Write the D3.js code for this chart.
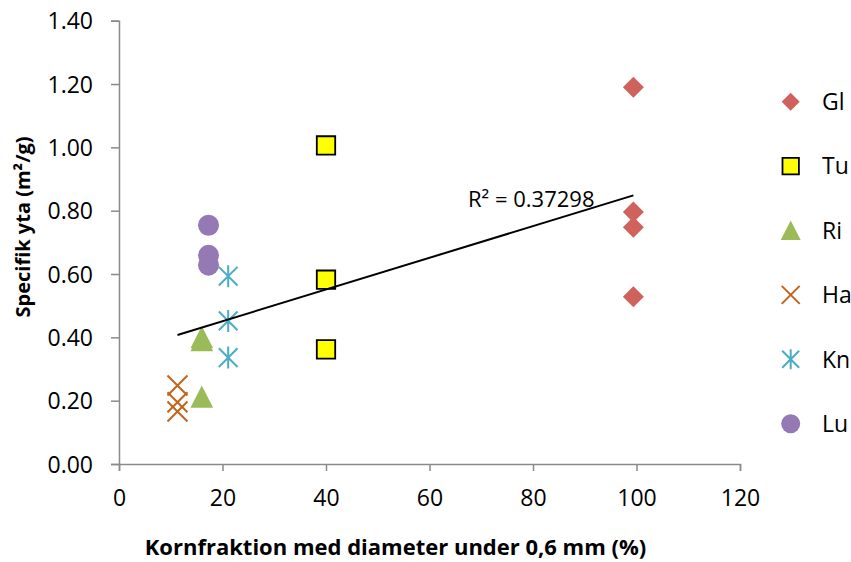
<!DOCTYPE html>
<html>
<head>
<meta charset="utf-8">
<script src="https://cdn.jsdelivr.net/npm/d3@7/dist/d3.min.js"></script>
<style>
  html, body { margin: 0; padding: 0; background: #fff; }
  svg { display: block; font-family: "Open Sans", "DejaVu Sans", sans-serif; }
</style>
</head>
<body>
<svg id="chart" width="851" height="562"></svg>
<script>
// Grain fraction below 0.6 mm (%) and specific surface area (m²/g) per site
const seriesNames = ["Gl", "Tu", "Ri", "Ha", "Kn", "Lu"];
const glX = [99.4, 99.4, 99.4, 99.4];
const glY = [1.19, 0.796, 0.748, 0.528];
const tuX = [40, 40, 40];
const tuY = [1.006, 0.582, 0.362];
const riX = [16, 16, 16];
const riY = [0.40, 0.39, 0.212];
const haX = [11.3, 11.3, 11.3];
const haY = [0.248, 0.195, 0.166];
const knX = [21.1, 21.1, 21.1];
const knY = [0.593, 0.452, 0.336];
const luX = [17.3, 17.3, 17.3];
const luY = [0.754, 0.659, 0.628];

const xTicks = [0, 20, 40, 60, 80, 100, 120];
const yTicks = [0, 0.2, 0.4, 0.6, 0.8, 1.0, 1.2, 1.4];
const r2Label = "R² = 0.37298";
const xTitle = "Kornfraktion med diameter under 0,6 mm (%)";
const yTitle = "Specifik yta (m²/g)";

const svg = d3.select("#chart");
const x = d3.scaleLinear().domain([0, 120]).range([119, 740]);
const y = d3.scaleLinear().domain([0, 1.4]).range([464, 20.7]);
const axisColor = "#8a8a8a";

// Axes
const xAxis = svg.append("g")
  .attr("transform", `translate(0,${y(0)})`)
  .call(d3.axisBottom(x).tickValues(xTicks).tickFormat(d3.format("d")).tickSizeOuter(0).tickSize(7));
const yAxis = svg.append("g")
  .attr("transform", `translate(${x(0)},0)`)
  .call(d3.axisLeft(y).tickValues(yTicks).tickFormat(d3.format(".2f")).tickSizeOuter(0).tickSize(8).tickPadding(18));

[xAxis, yAxis].forEach(g => {
  g.select(".domain").attr("stroke", axisColor).attr("stroke-width", 1.5);
  g.selectAll(".tick line").attr("stroke", axisColor).attr("stroke-width", 1.5);
  g.selectAll("text").attr("fill", "#000").attr("font-size", 23)
    .attr("font-family", "'Open Sans', sans-serif");
});
xAxis.selectAll("text").attr("y", 42).attr("dy", 0);
yAxis.selectAll("text").attr("dy", "0.36em");

// Marker shapes (half-extent s)
const shapes = {
  diamond: s => `M0,${-s}L${s},0L0,${s}L${-s},0Z`,
  square: s => `M${-s},${-s}H${s}V${s}H${-s}Z`,
  triangle: s => `M0,${-s * 1.05}L${s * 1.05},${s}L${-s * 1.05},${s}Z`,
  cross: s => `M${-s},${-s}L${s},${s}M${s},${-s}L${-s},${s}`,
  star: s => `M${-s * 0.85},${-s * 0.85}L${s * 0.85},${s * 0.85}M${s * 0.85},${-s * 0.85}L${-s * 0.85},${s * 0.85}M0,${-s}V${s}`,
  circle: s => `M${s},0A${s},${s} 0 1,1 ${-s},0A${s},${s} 0 1,1 ${s},0Z`
};

const series = [
  { name: seriesNames[0], xs: glX, ys: glY, shape: "diamond", fill: "#d0625d", stroke: "none", size: 10.5, legendSize: 9 },
  { name: seriesNames[1], xs: tuX, ys: tuY, shape: "square", fill: "#ffff00", stroke: "#000", sw: 1.8, size: 9.2, legendSize: 8.2 },
  { name: seriesNames[2], xs: riX, ys: riY, shape: "triangle", fill: "#9bbb59", stroke: "none", size: 10.8, legendSize: 9.5 },
  { name: seriesNames[3], xs: haX, ys: haY, shape: "cross", fill: "none", stroke: "#c0651c", sw: 2, size: 10, legendSize: 9 },
  { name: seriesNames[4], xs: knX, ys: knY, shape: "star", fill: "none", stroke: "#4bacc6", sw: 2, size: 11, legendSize: 10 },
  { name: seriesNames[5], xs: luX, ys: luY, shape: "circle", fill: "#9479b4", stroke: "none", size: 10.5, legendSize: 9.5 }
];

// Linear least-squares trend over all points
const all = series.flatMap(s => s.xs.map((xv, i) => [xv, s.ys[i]]));
const mx = d3.mean(all, d => d[0]), my = d3.mean(all, d => d[1]);
const slope = d3.sum(all, d => (d[0] - mx) * (d[1] - my)) / d3.sum(all, d => (d[0] - mx) ** 2);
const icpt = my - slope * mx;
const [x0, x1] = d3.extent(all, d => d[0]);

const plot = svg.append("g");
series.forEach(s => {
  plot.selectAll(null).data(s.xs.map((xv, i) => [xv, s.ys[i]])).enter()
    .append("path")
    .attr("transform", d => `translate(${x(d[0])},${y(d[1])})`)
    .attr("d", shapes[s.shape](s.size))
    .attr("fill", s.fill).attr("stroke", s.stroke).attr("stroke-width", s.sw || 0);
});

plot.append("line")
  .attr("x1", x(x0)).attr("y1", y(icpt + slope * x0))
  .attr("x2", x(x1)).attr("y2", y(icpt + slope * x1))
  .attr("stroke", "#000").attr("stroke-width", 2);

svg.append("text").attr("x", 468).attr("y", 207).attr("font-size", 22).text(r2Label);

// Legend
const legend = svg.append("g");
series.forEach((s, i) => {
  const cy = 101.7 + i * 64.4;
  legend.append("path")
    .attr("transform", `translate(790.7,${cy})`)
    .attr("d", shapes[s.shape](s.legendSize))
    .attr("fill", s.fill).attr("stroke", s.stroke).attr("stroke-width", s.sw || 0);
  legend.append("text").attr("x", 822).attr("y", cy).attr("dy", "0.36em")
    .attr("font-size", 23).text(s.name);
});

// Axis titles
svg.append("text").attr("x", 395.5).attr("y", 555).attr("text-anchor", "middle")
  .attr("font-weight", "bold").attr("font-size", 22).text(xTitle);
svg.append("text").attr("transform", "translate(30,227) rotate(-90)").attr("text-anchor", "middle")
  .attr("font-weight", "bold").attr("font-size", 20).text(yTitle);
</script>
</body>
</html>
